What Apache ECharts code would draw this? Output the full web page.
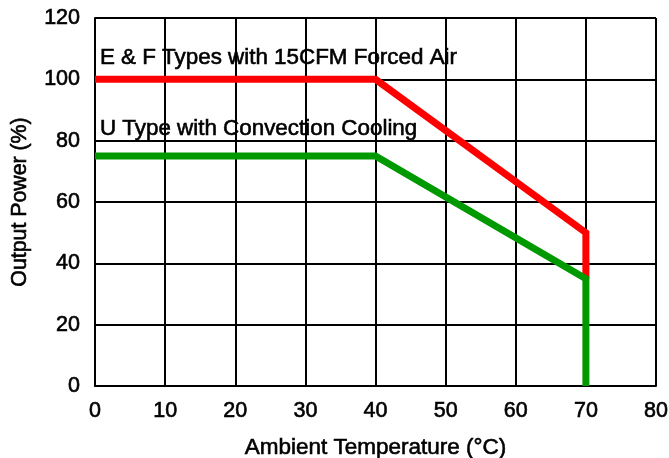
<!DOCTYPE html>
<html>
<head>
<meta charset="utf-8">
<script src="https://cdn.jsdelivr.net/npm/echarts@6/dist/echarts.min.js"></script>
<style>html,body{margin:0;padding:0;background:#fff}#c{width:669px;height:458px}</style>
</head>
<body>
<div id="c"></div>
<script>
var xTicks = [0, 10, 20, 30, 40, 50, 60, 70, 80];
var yTicks = [0, 20, 40, 60, 80, 100, 120];
var redSeries = [[0, 100], [40, 100], [70, 50], [70, 35]];
var greenSeries = [[0, 75], [40, 75], [70, 35], [70, 0]];
var redLabel = 'E & F Types with 15CFM Forced Air';
var greenLabel = 'U Type with Convection Cooling';
var redLabelAt = [0.7, 107];
var greenLabelAt = [0.7, 84];

var font = 'Arial, "Liberation Sans", sans-serif';
function txt(size) {
  return {fontFamily: font, fontSize: size, fontWeight: 'normal', color: '#000',
          textBorderColor: '#000', textBorderWidth: 0.6};
}
var chart = echarts.init(document.getElementById('c'), null, {renderer: 'canvas'});
chart.setOption({
  animation: false,
  backgroundColor: '#fff',
  grid: {left: 95, right: 13, top: 18, bottom: 72, containLabel: false, outerBoundsMode: 'none'},
  xAxis: {
    type: 'value', min: xTicks[0], max: xTicks[xTicks.length - 1], interval: 10,
    name: 'Ambient Temperature (°C)', nameLocation: 'middle', nameGap: 50,
    nameTextStyle: txt(22.5),
    axisLine: {show: true, lineStyle: {color: '#000', width: 2}},
    axisTick: {show: false},
    axisLabel: Object.assign({margin: 14}, txt(21.5)),
    splitLine: {show: true, lineStyle: {color: '#000', width: 2}}
  },
  yAxis: {
    type: 'value', min: yTicks[0], max: yTicks[yTicks.length - 1], interval: 20,
    name: 'Output Power (%)', nameLocation: 'middle', nameGap: 64,
    nameTextStyle: txt(21.3),
    axisLine: {show: true, lineStyle: {color: '#000', width: 2}},
    axisTick: {show: false},
    axisLabel: Object.assign({margin: 15}, txt(21.5)),
    splitLine: {show: true, lineStyle: {color: '#000', width: 2}}
  },
  series: [
    {
      type: 'line', data: redSeries, symbol: 'none', z: 3,
      lineStyle: {color: '#ff0000', width: 7, join: 'miter', cap: 'butt'},
      markPoint: {
        symbol: 'circle', symbolSize: 0, silent: true,
        label: Object.assign({show: true, position: 'right', distance: 0, formatter: '{b}'}, txt(22.4)),
        data: [{name: redLabel, coord: redLabelAt}]
      }
    },
    {
      type: 'line', data: greenSeries, symbol: 'none', z: 4,
      lineStyle: {color: '#009900', width: 7, join: 'miter', cap: 'butt'},
      markPoint: {
        symbol: 'circle', symbolSize: 0, silent: true,
        label: Object.assign({show: true, position: 'right', distance: 0, formatter: '{b}'}, txt(22.4)),
        data: [{name: greenLabel, coord: greenLabelAt}]
      }
    }
  ]
});
</script>
</body>
</html>
